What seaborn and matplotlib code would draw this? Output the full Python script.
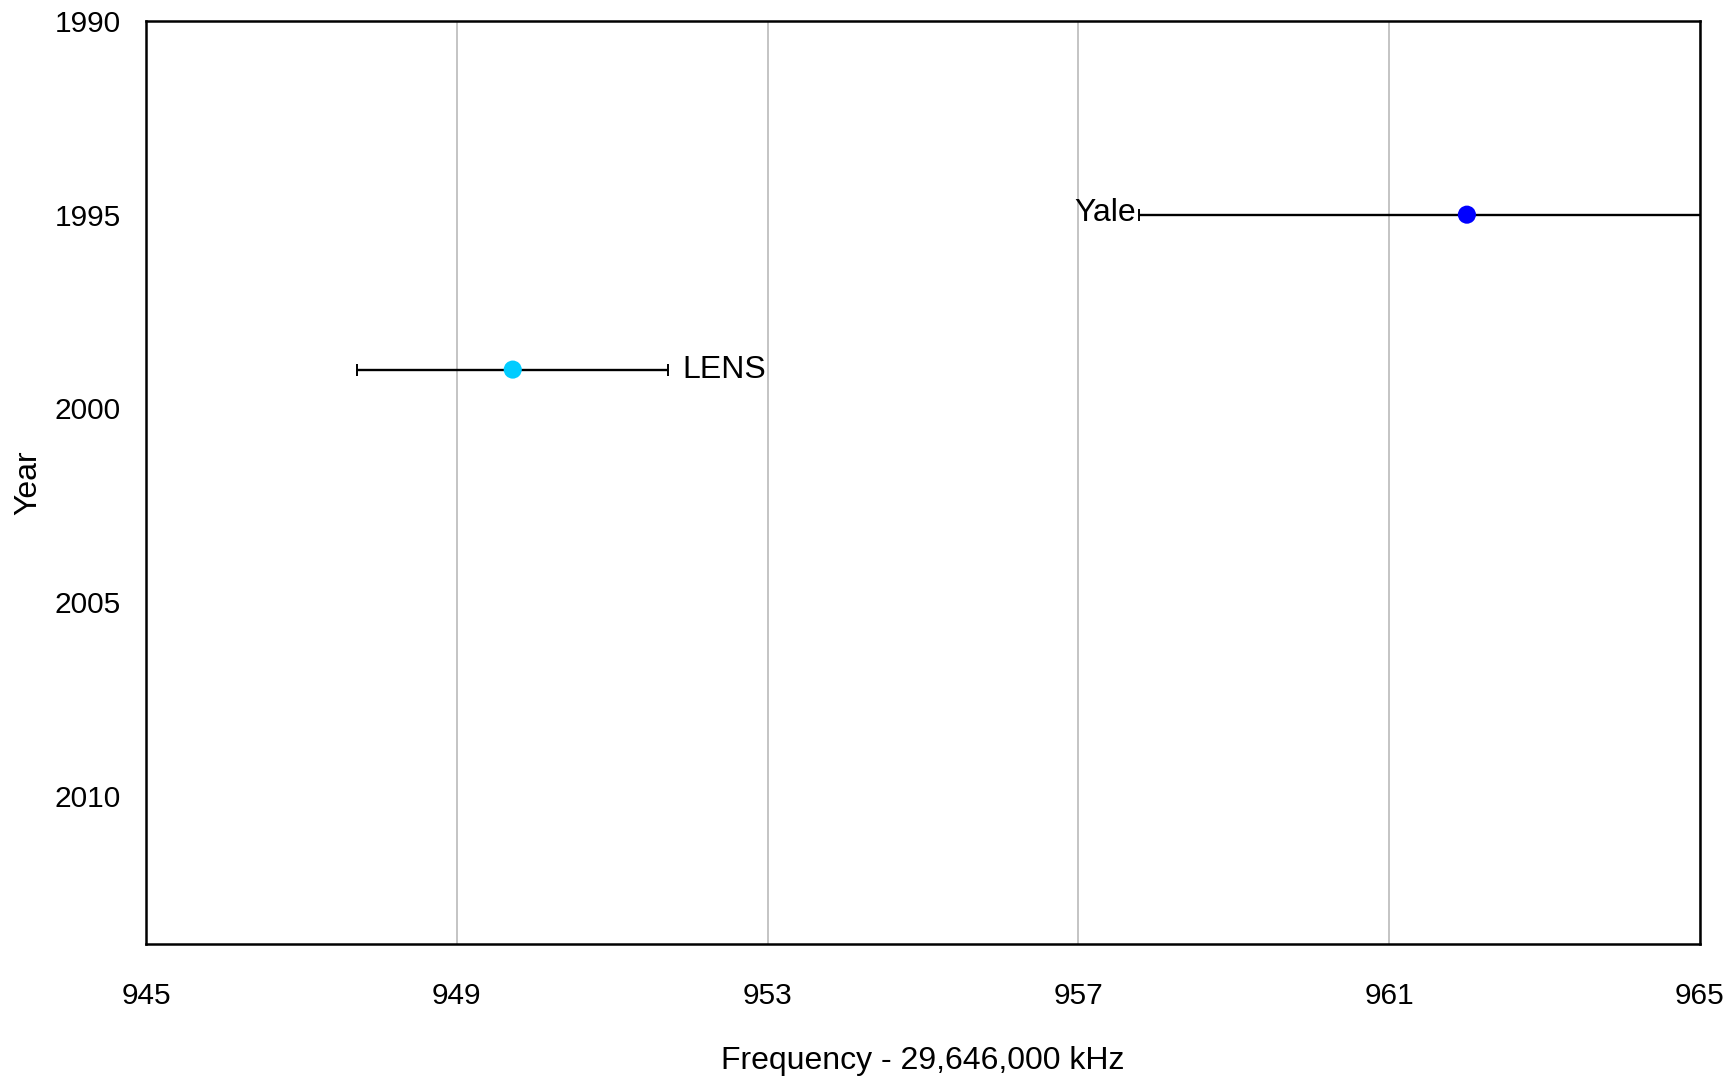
import matplotlib
matplotlib.use("Agg")
import matplotlib.pyplot as plt
import seaborn as sns
import pandas as pd

# Measurements: frequency offset from 29,646,000 kHz, with uncertainty
experiments = ["Yale", "LENS"]
years = [1995, 1999]
frequencies = [962.0, 949.72]
uncertainties = [4.22, 2.0]
point_colors = ["#0000FF", "#00CCFF"]

x_ticks = [945, 949, 953, 957, 961, 965]
y_ticks = [1990, 1995, 2000, 2005, 2010]

df = pd.DataFrame({"experiment": experiments, "year": years,
                   "freq": frequencies, "err": uncertainties})

sns.set_theme(style="white")
plt.rcParams["font.family"] = ["Liberation Sans", "DejaVu Sans"]
plt.rcParams["text.color"] = "black"
plt.rcParams["axes.labelcolor"] = "black"

fig, ax = plt.subplots(figsize=(17.35, 10.78), dpi=100)
fig.subplots_adjust(left=146 / 1735, right=1700 / 1735,
                    top=1 - 21 / 1078, bottom=1 - 944 / 1078)

# horizontal error bars
ax.errorbar(df["freq"], df["year"], xerr=df["err"], fmt="none",
            ecolor="black", elinewidth=1.7, capsize=4.5, capthick=1.4, zorder=2)

sns.scatterplot(data=df, x="freq", y="year", hue="experiment",
                palette=dict(zip(experiments, point_colors)), s=170,
                edgecolor="none", legend=False, ax=ax, zorder=3)

# labels next to the error bar ends
ax.annotate("Yale", xy=(df["freq"][0] - df["err"][0], df["year"][0]),
            xytext=(-2, 1), textcoords="offset points",
            ha="right", va="center", fontsize=23, color="black")
ax.annotate("LENS", xy=(df["freq"][1] + df["err"][1], df["year"][1]),
            xytext=(10, 0), textcoords="offset points",
            ha="left", va="center", fontsize=23, color="black")

ax.set_xlim(945, 965)
ax.set_ylim(2013.83, 1990)
ax.set_xticks(x_ticks)
ax.set_yticks(y_ticks)
ax.tick_params(axis="x", length=0, pad=27, labelsize=21.5, colors="black")
ax.tick_params(axis="y", length=0, pad=18, labelsize=21.5, colors="black")

ax.grid(axis="x", color="#BFBFBF", linewidth=1.3)
ax.grid(axis="y", visible=False)
for sp in ax.spines.values():
    sp.set_color("black")
    sp.set_linewidth(1.8)

ax.set_xlabel("Frequency - 29,646,000 kHz", fontsize=23, labelpad=26)
ax.set_ylabel("Year", fontsize=23, labelpad=8)

fig.savefig("out.png", dpi=100, facecolor="white")
